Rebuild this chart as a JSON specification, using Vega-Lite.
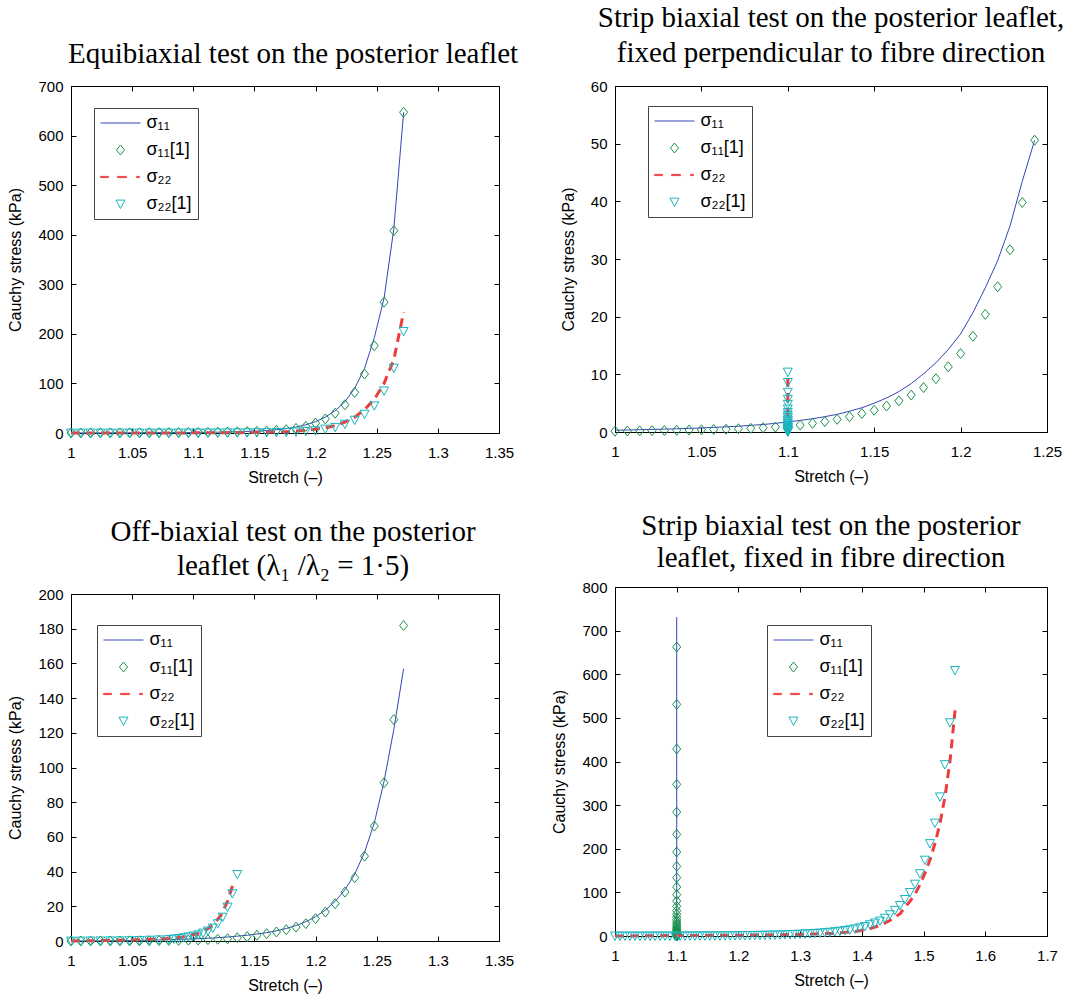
{
  "$schema": "https://vega.github.io/schema/vega-lite/v6.json",
  "background": "white",
  "padding": {"left": 7, "top": 3, "right": 5, "bottom": 5},
  "datasets": {
    "p1": [
      {"s":"σ₁₁","x":1,"y":0},{"s":"σ₁₁","x":1.008,"y":0.1},{"s":"σ₁₁","x":1.016,"y":0.2},{"s":"σ₁₁","x":1.024,"y":0.25},{"s":"σ₁₁","x":1.032,"y":0.3},{"s":"σ₁₁","x":1.04,"y":0.4},{"s":"σ₁₁","x":1.048,"y":0.45},{"s":"σ₁₁","x":1.056,"y":0.5},{"s":"σ₁₁","x":1.064,"y":0.6},{"s":"σ₁₁","x":1.072,"y":0.7},{"s":"σ₁₁","x":1.08,"y":0.8},{"s":"σ₁₁","x":1.088,"y":0.9},{"s":"σ₁₁","x":1.096,"y":1.0},{"s":"σ₁₁","x":1.104,"y":1.2},{"s":"σ₁₁","x":1.112,"y":1.4},{"s":"σ₁₁","x":1.12,"y":1.7},{"s":"σ₁₁","x":1.128,"y":2.0},{"s":"σ₁₁","x":1.136,"y":2.5},{"s":"σ₁₁","x":1.144,"y":3.1},{"s":"σ₁₁","x":1.152,"y":3.9},{"s":"σ₁₁","x":1.16,"y":5},{"s":"σ₁₁","x":1.168,"y":6.6},{"s":"σ₁₁","x":1.176,"y":8.8},{"s":"σ₁₁","x":1.184,"y":12},{"s":"σ₁₁","x":1.192,"y":16.5},{"s":"σ₁₁","x":1.2,"y":23},{"s":"σ₁₁","x":1.208,"y":32},{"s":"σ₁₁","x":1.216,"y":45},{"s":"σ₁₁","x":1.224,"y":63},{"s":"σ₁₁","x":1.232,"y":90},{"s":"σ₁₁","x":1.24,"y":130},{"s":"σ₁₁","x":1.248,"y":192},{"s":"σ₁₁","x":1.256,"y":272},{"s":"σ₁₁","x":1.264,"y":412},{"s":"σ₁₁","x":1.272,"y":647},
      {"s":"σ₁₁[1]","x":1,"y":0},{"s":"σ₁₁[1]","x":1.008,"y":0.05},{"s":"σ₁₁[1]","x":1.016,"y":0.1},{"s":"σ₁₁[1]","x":1.024,"y":0.15},{"s":"σ₁₁[1]","x":1.032,"y":0.2},{"s":"σ₁₁[1]","x":1.04,"y":0.25},{"s":"σ₁₁[1]","x":1.048,"y":0.3},{"s":"σ₁₁[1]","x":1.056,"y":0.4},{"s":"σ₁₁[1]","x":1.064,"y":0.5},{"s":"σ₁₁[1]","x":1.072,"y":0.6},{"s":"σ₁₁[1]","x":1.08,"y":0.7},{"s":"σ₁₁[1]","x":1.088,"y":0.8},{"s":"σ₁₁[1]","x":1.096,"y":1.0},{"s":"σ₁₁[1]","x":1.104,"y":1.2},{"s":"σ₁₁[1]","x":1.112,"y":1.4},{"s":"σ₁₁[1]","x":1.12,"y":1.7},{"s":"σ₁₁[1]","x":1.128,"y":2.0},{"s":"σ₁₁[1]","x":1.136,"y":2.4},{"s":"σ₁₁[1]","x":1.144,"y":2.9},{"s":"σ₁₁[1]","x":1.152,"y":3.4},{"s":"σ₁₁[1]","x":1.16,"y":4.1},{"s":"σ₁₁[1]","x":1.168,"y":5.2},{"s":"σ₁₁[1]","x":1.176,"y":6.8},{"s":"σ₁₁[1]","x":1.184,"y":9.3},{"s":"σ₁₁[1]","x":1.192,"y":13.5},{"s":"σ₁₁[1]","x":1.2,"y":20},{"s":"σ₁₁[1]","x":1.208,"y":28.5},{"s":"σ₁₁[1]","x":1.216,"y":40},{"s":"σ₁₁[1]","x":1.224,"y":57},{"s":"σ₁₁[1]","x":1.232,"y":82},{"s":"σ₁₁[1]","x":1.24,"y":119},{"s":"σ₁₁[1]","x":1.248,"y":176},{"s":"σ₁₁[1]","x":1.256,"y":264},{"s":"σ₁₁[1]","x":1.264,"y":408},{"s":"σ₁₁[1]","x":1.272,"y":647},
      {"s":"σ₂₂","x":1,"y":0},{"s":"σ₂₂","x":1.008,"y":0.02},{"s":"σ₂₂","x":1.016,"y":0.04},{"s":"σ₂₂","x":1.024,"y":0.06},{"s":"σ₂₂","x":1.032,"y":0.08},{"s":"σ₂₂","x":1.04,"y":0.1},{"s":"σ₂₂","x":1.048,"y":0.12},{"s":"σ₂₂","x":1.056,"y":0.14},{"s":"σ₂₂","x":1.064,"y":0.16},{"s":"σ₂₂","x":1.072,"y":0.18},{"s":"σ₂₂","x":1.08,"y":0.2},{"s":"σ₂₂","x":1.088,"y":0.23},{"s":"σ₂₂","x":1.096,"y":0.26},{"s":"σ₂₂","x":1.104,"y":0.3},{"s":"σ₂₂","x":1.112,"y":0.35},{"s":"σ₂₂","x":1.12,"y":0.42},{"s":"σ₂₂","x":1.128,"y":0.5},{"s":"σ₂₂","x":1.136,"y":0.6},{"s":"σ₂₂","x":1.144,"y":0.8},{"s":"σ₂₂","x":1.152,"y":1.0},{"s":"σ₂₂","x":1.16,"y":1.4},{"s":"σ₂₂","x":1.168,"y":1.9},{"s":"σ₂₂","x":1.176,"y":2.7},{"s":"σ₂₂","x":1.184,"y":3.8},{"s":"σ₂₂","x":1.192,"y":5.3},{"s":"σ₂₂","x":1.2,"y":7.5},{"s":"σ₂₂","x":1.208,"y":10.5},{"s":"σ₂₂","x":1.216,"y":15},{"s":"σ₂₂","x":1.224,"y":22},{"s":"σ₂₂","x":1.232,"y":32},{"s":"σ₂₂","x":1.24,"y":47},{"s":"σ₂₂","x":1.248,"y":68},{"s":"σ₂₂","x":1.256,"y":100},{"s":"σ₂₂","x":1.264,"y":148},{"s":"σ₂₂","x":1.272,"y":244},
      {"s":"σ₂₂[1]","x":1,"y":0},{"s":"σ₂₂[1]","x":1.008,"y":0.02},{"s":"σ₂₂[1]","x":1.016,"y":0.04},{"s":"σ₂₂[1]","x":1.024,"y":0.06},{"s":"σ₂₂[1]","x":1.032,"y":0.08},{"s":"σ₂₂[1]","x":1.04,"y":0.1},{"s":"σ₂₂[1]","x":1.048,"y":0.12},{"s":"σ₂₂[1]","x":1.056,"y":0.14},{"s":"σ₂₂[1]","x":1.064,"y":0.16},{"s":"σ₂₂[1]","x":1.072,"y":0.18},{"s":"σ₂₂[1]","x":1.08,"y":0.2},{"s":"σ₂₂[1]","x":1.088,"y":0.22},{"s":"σ₂₂[1]","x":1.096,"y":0.25},{"s":"σ₂₂[1]","x":1.104,"y":0.28},{"s":"σ₂₂[1]","x":1.112,"y":0.32},{"s":"σ₂₂[1]","x":1.12,"y":0.37},{"s":"σ₂₂[1]","x":1.128,"y":0.43},{"s":"σ₂₂[1]","x":1.136,"y":0.5},{"s":"σ₂₂[1]","x":1.144,"y":0.6},{"s":"σ₂₂[1]","x":1.152,"y":0.75},{"s":"σ₂₂[1]","x":1.16,"y":0.9},{"s":"σ₂₂[1]","x":1.168,"y":1.2},{"s":"σ₂₂[1]","x":1.176,"y":1.7},{"s":"σ₂₂[1]","x":1.184,"y":2.3},{"s":"σ₂₂[1]","x":1.192,"y":3.3},{"s":"σ₂₂[1]","x":1.2,"y":4.7},{"s":"σ₂₂[1]","x":1.208,"y":8},{"s":"σ₂₂[1]","x":1.216,"y":11.5},{"s":"σ₂₂[1]","x":1.224,"y":18},{"s":"σ₂₂[1]","x":1.232,"y":26},{"s":"σ₂₂[1]","x":1.24,"y":38},{"s":"σ₂₂[1]","x":1.248,"y":55},{"s":"σ₂₂[1]","x":1.256,"y":85},{"s":"σ₂₂[1]","x":1.264,"y":131},{"s":"σ₂₂[1]","x":1.272,"y":205}
    ],
    "p2": [
      {"s":"σ₁₁","x":1,"y":0.3},{"s":"σ₁₁","x":1.00714,"y":0.35},{"s":"σ₁₁","x":1.01429,"y":0.4},{"s":"σ₁₁","x":1.02143,"y":0.45},{"s":"σ₁₁","x":1.02857,"y":0.5},{"s":"σ₁₁","x":1.03571,"y":0.56},{"s":"σ₁₁","x":1.04286,"y":0.63},{"s":"σ₁₁","x":1.05,"y":0.7},{"s":"σ₁₁","x":1.05714,"y":0.8},{"s":"σ₁₁","x":1.06429,"y":0.9},{"s":"σ₁₁","x":1.07143,"y":1.0},{"s":"σ₁₁","x":1.07857,"y":1.15},{"s":"σ₁₁","x":1.08571,"y":1.3},{"s":"σ₁₁","x":1.09286,"y":1.5},{"s":"σ₁₁","x":1.1,"y":1.75},{"s":"σ₁₁","x":1.10714,"y":2.0},{"s":"σ₁₁","x":1.11429,"y":2.3},{"s":"σ₁₁","x":1.12143,"y":2.66},{"s":"σ₁₁","x":1.12857,"y":3.06},{"s":"σ₁₁","x":1.13571,"y":3.6},{"s":"σ₁₁","x":1.14286,"y":4.2},{"s":"σ₁₁","x":1.15,"y":5.0},{"s":"σ₁₁","x":1.15714,"y":5.9},{"s":"σ₁₁","x":1.16429,"y":7.0},{"s":"σ₁₁","x":1.17143,"y":8.4},{"s":"σ₁₁","x":1.17857,"y":10.1},{"s":"σ₁₁","x":1.18571,"y":12.0},{"s":"σ₁₁","x":1.19286,"y":14.3},{"s":"σ₁₁","x":1.2,"y":17.0},{"s":"σ₁₁","x":1.20714,"y":20.7},{"s":"σ₁₁","x":1.21429,"y":25},{"s":"σ₁₁","x":1.22143,"y":29.7},{"s":"σ₁₁","x":1.22857,"y":35.7},{"s":"σ₁₁","x":1.23571,"y":43.5},{"s":"σ₁₁","x":1.24286,"y":50.6},
      {"s":"σ₁₁[1]","x":1,"y":0.15},{"s":"σ₁₁[1]","x":1.00714,"y":0.17},{"s":"σ₁₁[1]","x":1.01429,"y":0.2},{"s":"σ₁₁[1]","x":1.02143,"y":0.23},{"s":"σ₁₁[1]","x":1.02857,"y":0.26},{"s":"σ₁₁[1]","x":1.03571,"y":0.3},{"s":"σ₁₁[1]","x":1.04286,"y":0.34},{"s":"σ₁₁[1]","x":1.05,"y":0.38},{"s":"σ₁₁[1]","x":1.05714,"y":0.43},{"s":"σ₁₁[1]","x":1.06429,"y":0.49},{"s":"σ₁₁[1]","x":1.07143,"y":0.56},{"s":"σ₁₁[1]","x":1.07857,"y":0.64},{"s":"σ₁₁[1]","x":1.08571,"y":0.74},{"s":"σ₁₁[1]","x":1.09286,"y":0.86},{"s":"σ₁₁[1]","x":1.1,"y":1.0},{"s":"σ₁₁[1]","x":1.10714,"y":1.2},{"s":"σ₁₁[1]","x":1.11429,"y":1.5},{"s":"σ₁₁[1]","x":1.12143,"y":1.8},{"s":"σ₁₁[1]","x":1.12857,"y":2.2},{"s":"σ₁₁[1]","x":1.13571,"y":2.66},{"s":"σ₁₁[1]","x":1.14286,"y":3.2},{"s":"σ₁₁[1]","x":1.15,"y":3.76},{"s":"σ₁₁[1]","x":1.15714,"y":4.5},{"s":"σ₁₁[1]","x":1.16429,"y":5.4},{"s":"σ₁₁[1]","x":1.17143,"y":6.4},{"s":"σ₁₁[1]","x":1.17857,"y":7.7},{"s":"σ₁₁[1]","x":1.18571,"y":9.25},{"s":"σ₁₁[1]","x":1.19286,"y":11.3},{"s":"σ₁₁[1]","x":1.2,"y":13.6},{"s":"σ₁₁[1]","x":1.20714,"y":16.6},{"s":"σ₁₁[1]","x":1.21429,"y":20.4},{"s":"σ₁₁[1]","x":1.22143,"y":25.2},{"s":"σ₁₁[1]","x":1.22857,"y":31.6},{"s":"σ₁₁[1]","x":1.23571,"y":39.8},{"s":"σ₁₁[1]","x":1.24286,"y":50.6},
      {"s":"σ₂₂","x":1.1,"y":0},{"s":"σ₂₂","x":1.1,"y":2},{"s":"σ₂₂","x":1.1,"y":4},{"s":"σ₂₂","x":1.1,"y":6},{"s":"σ₂₂","x":1.1,"y":8},{"s":"σ₂₂","x":1.1,"y":10},
      {"s":"σ₂₂[1]","x":1.1,"y":0},{"s":"σ₂₂[1]","x":1.1,"y":0.1},{"s":"σ₂₂[1]","x":1.1,"y":0.2},{"s":"σ₂₂[1]","x":1.1,"y":0.3},{"s":"σ₂₂[1]","x":1.1,"y":0.45},{"s":"σ₂₂[1]","x":1.1,"y":0.6},{"s":"σ₂₂[1]","x":1.1,"y":0.8},{"s":"σ₂₂[1]","x":1.1,"y":1.0},{"s":"σ₂₂[1]","x":1.1,"y":1.25},{"s":"σ₂₂[1]","x":1.1,"y":1.5},{"s":"σ₂₂[1]","x":1.1,"y":1.8},{"s":"σ₂₂[1]","x":1.1,"y":2.1},{"s":"σ₂₂[1]","x":1.1,"y":2.5},{"s":"σ₂₂[1]","x":1.1,"y":2.9},{"s":"σ₂₂[1]","x":1.1,"y":3.4},{"s":"σ₂₂[1]","x":1.1,"y":4.0},{"s":"σ₂₂[1]","x":1.1,"y":4.8},{"s":"σ₂₂[1]","x":1.1,"y":5.7},{"s":"σ₂₂[1]","x":1.1,"y":6.9},{"s":"σ₂₂[1]","x":1.1,"y":8.6},{"s":"σ₂₂[1]","x":1.1,"y":10.4}
    ],
    "p3": [
      {"s":"σ₁₁","x":1,"y":0},{"s":"σ₁₁","x":1.008,"y":0.02},{"s":"σ₁₁","x":1.016,"y":0.05},{"s":"σ₁₁","x":1.024,"y":0.1},{"s":"σ₁₁","x":1.032,"y":0.15},{"s":"σ₁₁","x":1.04,"y":0.22},{"s":"σ₁₁","x":1.048,"y":0.3},{"s":"σ₁₁","x":1.056,"y":0.4},{"s":"σ₁₁","x":1.064,"y":0.5},{"s":"σ₁₁","x":1.072,"y":0.6},{"s":"σ₁₁","x":1.08,"y":0.75},{"s":"σ₁₁","x":1.088,"y":0.9},{"s":"σ₁₁","x":1.096,"y":1.1},{"s":"σ₁₁","x":1.104,"y":1.35},{"s":"σ₁₁","x":1.112,"y":1.6},{"s":"σ₁₁","x":1.12,"y":1.9},{"s":"σ₁₁","x":1.128,"y":2.3},{"s":"σ₁₁","x":1.136,"y":2.8},{"s":"σ₁₁","x":1.144,"y":3.3},{"s":"σ₁₁","x":1.152,"y":4.0},{"s":"σ₁₁","x":1.16,"y":4.8},{"s":"σ₁₁","x":1.168,"y":5.9},{"s":"σ₁₁","x":1.176,"y":7.2},{"s":"σ₁₁","x":1.184,"y":8.9},{"s":"σ₁₁","x":1.192,"y":11.1},{"s":"σ₁₁","x":1.2,"y":14},{"s":"σ₁₁","x":1.208,"y":17.8},{"s":"σ₁₁","x":1.216,"y":22.8},{"s":"σ₁₁","x":1.224,"y":29.5},{"s":"σ₁₁","x":1.232,"y":38.5},{"s":"σ₁₁","x":1.24,"y":51},{"s":"σ₁₁","x":1.248,"y":68},{"s":"σ₁₁","x":1.256,"y":92},{"s":"σ₁₁","x":1.264,"y":122},{"s":"σ₁₁","x":1.272,"y":157},
      {"s":"σ₁₁[1]","x":1,"y":0},{"s":"σ₁₁[1]","x":1.008,"y":0.01},{"s":"σ₁₁[1]","x":1.016,"y":0.02},{"s":"σ₁₁[1]","x":1.024,"y":0.04},{"s":"σ₁₁[1]","x":1.032,"y":0.06},{"s":"σ₁₁[1]","x":1.04,"y":0.08},{"s":"σ₁₁[1]","x":1.048,"y":0.1},{"s":"σ₁₁[1]","x":1.056,"y":0.15},{"s":"σ₁₁[1]","x":1.064,"y":0.2},{"s":"σ₁₁[1]","x":1.072,"y":0.25},{"s":"σ₁₁[1]","x":1.08,"y":0.3},{"s":"σ₁₁[1]","x":1.088,"y":0.4},{"s":"σ₁₁[1]","x":1.096,"y":0.5},{"s":"σ₁₁[1]","x":1.104,"y":0.6},{"s":"σ₁₁[1]","x":1.112,"y":0.8},{"s":"σ₁₁[1]","x":1.12,"y":1.0},{"s":"σ₁₁[1]","x":1.128,"y":1.3},{"s":"σ₁₁[1]","x":1.136,"y":1.9},{"s":"σ₁₁[1]","x":1.144,"y":2.5},{"s":"σ₁₁[1]","x":1.152,"y":3.3},{"s":"σ₁₁[1]","x":1.16,"y":4.2},{"s":"σ₁₁[1]","x":1.168,"y":5.2},{"s":"σ₁₁[1]","x":1.176,"y":6.5},{"s":"σ₁₁[1]","x":1.184,"y":8},{"s":"σ₁₁[1]","x":1.192,"y":10},{"s":"σ₁₁[1]","x":1.2,"y":12.9},{"s":"σ₁₁[1]","x":1.208,"y":16.7},{"s":"σ₁₁[1]","x":1.216,"y":21.5},{"s":"σ₁₁[1]","x":1.224,"y":28.2},{"s":"σ₁₁[1]","x":1.232,"y":36.5},{"s":"σ₁₁[1]","x":1.24,"y":48.9},{"s":"σ₁₁[1]","x":1.248,"y":66.2},{"s":"σ₁₁[1]","x":1.256,"y":91.2},{"s":"σ₁₁[1]","x":1.264,"y":127.6},{"s":"σ₁₁[1]","x":1.272,"y":181.8},
      {"s":"σ₂₂","x":1,"y":0},{"s":"σ₂₂","x":1.02,"y":0.2},{"s":"σ₂₂","x":1.04,"y":0.4},{"s":"σ₂₂","x":1.06,"y":0.8},{"s":"σ₂₂","x":1.08,"y":1.5},{"s":"σ₂₂","x":1.09,"y":2.1},{"s":"σ₂₂","x":1.098,"y":3.3},{"s":"σ₂₂","x":1.106,"y":4.8},{"s":"σ₂₂","x":1.112,"y":7.1},{"s":"σ₂₂","x":1.117,"y":10},{"s":"σ₂₂","x":1.1226,"y":14.8},{"s":"σ₂₂","x":1.128,"y":22.8},{"s":"σ₂₂","x":1.1335,"y":35},
      {"s":"σ₂₂[1]","x":1,"y":0},{"s":"σ₂₂[1]","x":1.008,"y":0.02},{"s":"σ₂₂[1]","x":1.016,"y":0.05},{"s":"σ₂₂[1]","x":1.024,"y":0.08},{"s":"σ₂₂[1]","x":1.032,"y":0.12},{"s":"σ₂₂[1]","x":1.04,"y":0.17},{"s":"σ₂₂[1]","x":1.048,"y":0.25},{"s":"σ₂₂[1]","x":1.056,"y":0.35},{"s":"σ₂₂[1]","x":1.064,"y":0.5},{"s":"σ₂₂[1]","x":1.072,"y":0.7},{"s":"σ₂₂[1]","x":1.08,"y":0.9},{"s":"σ₂₂[1]","x":1.084,"y":1.2},{"s":"σ₂₂[1]","x":1.088,"y":1.5},{"s":"σ₂₂[1]","x":1.092,"y":1.9},{"s":"σ₂₂[1]","x":1.096,"y":2.4},{"s":"σ₂₂[1]","x":1.1,"y":2.9},{"s":"σ₂₂[1]","x":1.104,"y":3.6},{"s":"σ₂₂[1]","x":1.108,"y":4.6},{"s":"σ₂₂[1]","x":1.112,"y":5.8},{"s":"σ₂₂[1]","x":1.116,"y":7.5},{"s":"σ₂₂[1]","x":1.12,"y":10},{"s":"σ₂₂[1]","x":1.124,"y":13.8},{"s":"σ₂₂[1]","x":1.128,"y":19.6},{"s":"σ₂₂[1]","x":1.132,"y":27.3},{"s":"σ₂₂[1]","x":1.136,"y":38.4}
    ],
    "p4": [
      {"s":"σ₁₁","x":1.1,"y":0},{"s":"σ₁₁","x":1.1,"y":731},
      {"s":"σ₁₁[1]","x":1.1,"y":0},{"s":"σ₁₁[1]","x":1.1,"y":0.1},{"s":"σ₁₁[1]","x":1.1,"y":0.4},{"s":"σ₁₁[1]","x":1.1,"y":0.8},{"s":"σ₁₁[1]","x":1.1,"y":1.3},{"s":"σ₁₁[1]","x":1.1,"y":1.9},{"s":"σ₁₁[1]","x":1.1,"y":2.6},{"s":"σ₁₁[1]","x":1.1,"y":3.4},{"s":"σ₁₁[1]","x":1.1,"y":4.4},{"s":"σ₁₁[1]","x":1.1,"y":5.5},{"s":"σ₁₁[1]","x":1.1,"y":6.8},{"s":"σ₁₁[1]","x":1.1,"y":8.3},{"s":"σ₁₁[1]","x":1.1,"y":10},{"s":"σ₁₁[1]","x":1.1,"y":12},{"s":"σ₁₁[1]","x":1.1,"y":14.5},{"s":"σ₁₁[1]","x":1.1,"y":17},{"s":"σ₁₁[1]","x":1.1,"y":20},{"s":"σ₁₁[1]","x":1.1,"y":23.5},{"s":"σ₁₁[1]","x":1.1,"y":27.5},{"s":"σ₁₁[1]","x":1.1,"y":32},{"s":"σ₁₁[1]","x":1.1,"y":37},{"s":"σ₁₁[1]","x":1.1,"y":43},{"s":"σ₁₁[1]","x":1.1,"y":50},{"s":"σ₁₁[1]","x":1.1,"y":58},{"s":"σ₁₁[1]","x":1.1,"y":68},{"s":"σ₁₁[1]","x":1.1,"y":80},{"s":"σ₁₁[1]","x":1.1,"y":94.7},{"s":"σ₁₁[1]","x":1.1,"y":112.3},{"s":"σ₁₁[1]","x":1.1,"y":133.7},{"s":"σ₁₁[1]","x":1.1,"y":159.7},{"s":"σ₁₁[1]","x":1.1,"y":192.6},{"s":"σ₁₁[1]","x":1.1,"y":233},{"s":"σ₁₁[1]","x":1.1,"y":284},{"s":"σ₁₁[1]","x":1.1,"y":347.7},{"s":"σ₁₁[1]","x":1.1,"y":428.7},{"s":"σ₁₁[1]","x":1.1,"y":531},{"s":"σ₁₁[1]","x":1.1,"y":662.5},
      {"s":"σ₂₂","x":1,"y":0},{"s":"σ₂₂","x":1.1,"y":1.0},{"s":"σ₂₂","x":1.2,"y":1.8},{"s":"σ₂₂","x":1.3,"y":3.5},{"s":"σ₂₂","x":1.35,"y":6},{"s":"σ₂₂","x":1.392,"y":10.7},{"s":"σ₂₂","x":1.4135,"y":17},{"s":"σ₂₂","x":1.43,"y":24.5},{"s":"σ₂₂","x":1.446,"y":36},{"s":"σ₂₂","x":1.454,"y":43.5},{"s":"σ₂₂","x":1.462,"y":51},{"s":"σ₂₂","x":1.47,"y":66.5},{"s":"σ₂₂","x":1.478,"y":79.5},{"s":"σ₂₂","x":1.4865,"y":97},{"s":"σ₂₂","x":1.495,"y":120},{"s":"σ₂₂","x":1.503,"y":147},{"s":"σ₂₂","x":1.511,"y":177},{"s":"σ₂₂","x":1.519,"y":215},{"s":"σ₂₂","x":1.527,"y":261},{"s":"σ₂₂","x":1.535,"y":322},{"s":"σ₂₂","x":1.543,"y":403},{"s":"σ₂₂","x":1.551,"y":517},
      {"s":"σ₂₂[1]","x":1,"y":0},{"s":"σ₂₂[1]","x":1.0081,"y":0.01},{"s":"σ₂₂[1]","x":1.0162,"y":0.02},{"s":"σ₂₂[1]","x":1.0243,"y":0.03},{"s":"σ₂₂[1]","x":1.0324,"y":0.04},{"s":"σ₂₂[1]","x":1.0405,"y":0.06},{"s":"σ₂₂[1]","x":1.0486,"y":0.08},{"s":"σ₂₂[1]","x":1.0567,"y":0.1},{"s":"σ₂₂[1]","x":1.0648,"y":0.12},{"s":"σ₂₂[1]","x":1.0729,"y":0.14},{"s":"σ₂₂[1]","x":1.081,"y":0.16},{"s":"σ₂₂[1]","x":1.0891,"y":0.18},{"s":"σ₂₂[1]","x":1.0972,"y":0.2},{"s":"σ₂₂[1]","x":1.1053,"y":0.25},{"s":"σ₂₂[1]","x":1.1134,"y":0.3},{"s":"σ₂₂[1]","x":1.1215,"y":0.35},{"s":"σ₂₂[1]","x":1.1296,"y":0.4},{"s":"σ₂₂[1]","x":1.1377,"y":0.45},{"s":"σ₂₂[1]","x":1.1458,"y":0.5},{"s":"σ₂₂[1]","x":1.1539,"y":0.55},{"s":"σ₂₂[1]","x":1.162,"y":0.6},{"s":"σ₂₂[1]","x":1.1701,"y":0.7},{"s":"σ₂₂[1]","x":1.1782,"y":0.8},{"s":"σ₂₂[1]","x":1.1863,"y":0.9},{"s":"σ₂₂[1]","x":1.1944,"y":1.0},{"s":"σ₂₂[1]","x":1.2025,"y":1.1},{"s":"σ₂₂[1]","x":1.2106,"y":1.25},{"s":"σ₂₂[1]","x":1.2187,"y":1.4},{"s":"σ₂₂[1]","x":1.2268,"y":1.6},{"s":"σ₂₂[1]","x":1.2349,"y":1.8},{"s":"σ₂₂[1]","x":1.243,"y":2.0},{"s":"σ₂₂[1]","x":1.2511,"y":2.2},{"s":"σ₂₂[1]","x":1.2592,"y":2.5},{"s":"σ₂₂[1]","x":1.2673,"y":2.8},{"s":"σ₂₂[1]","x":1.2754,"y":3.1},{"s":"σ₂₂[1]","x":1.2835,"y":3.5},{"s":"σ₂₂[1]","x":1.2916,"y":3.9},{"s":"σ₂₂[1]","x":1.2997,"y":4.4},{"s":"σ₂₂[1]","x":1.3078,"y":4.9},{"s":"σ₂₂[1]","x":1.3159,"y":5.5},{"s":"σ₂₂[1]","x":1.324,"y":6.2},{"s":"σ₂₂[1]","x":1.3321,"y":7},{"s":"σ₂₂[1]","x":1.3402,"y":7.9},{"s":"σ₂₂[1]","x":1.3483,"y":8.9},{"s":"σ₂₂[1]","x":1.3564,"y":10},{"s":"σ₂₂[1]","x":1.3645,"y":11.3},{"s":"σ₂₂[1]","x":1.3726,"y":12.8},{"s":"σ₂₂[1]","x":1.3807,"y":14.5},{"s":"σ₂₂[1]","x":1.3888,"y":16.5},{"s":"σ₂₂[1]","x":1.3969,"y":19},{"s":"σ₂₂[1]","x":1.405,"y":22},{"s":"σ₂₂[1]","x":1.4131,"y":26},{"s":"σ₂₂[1]","x":1.4212,"y":30},{"s":"σ₂₂[1]","x":1.4293,"y":34.5},{"s":"σ₂₂[1]","x":1.4374,"y":41},{"s":"σ₂₂[1]","x":1.4455,"y":49},{"s":"σ₂₂[1]","x":1.4536,"y":59},{"s":"σ₂₂[1]","x":1.4617,"y":70},{"s":"σ₂₂[1]","x":1.4698,"y":84},{"s":"σ₂₂[1]","x":1.4779,"y":100},{"s":"σ₂₂[1]","x":1.486,"y":119},{"s":"σ₂₂[1]","x":1.4941,"y":143},{"s":"σ₂₂[1]","x":1.5022,"y":174},{"s":"σ₂₂[1]","x":1.5103,"y":212},{"s":"σ₂₂[1]","x":1.5184,"y":259},{"s":"σ₂₂[1]","x":1.5265,"y":319},{"s":"σ₂₂[1]","x":1.5346,"y":393},{"s":"σ₂₂[1]","x":1.5427,"y":489},{"s":"σ₂₂[1]","x":1.5508,"y":609}
    ]
  },
  "config": {
    "view": {"stroke": "#000", "strokeWidth": 1},
    "axis": {"labelFont": "Liberation Sans", "labelFontSize": 15, "labelColor": "#000", "titleFont": "Liberation Sans", "titleFontSize": 16, "titleFontWeight": "normal", "titleColor": "#000", "domainColor": "#000", "domainWidth": 1, "tickColor": "#000", "tickSize": -5, "tickWidth": 1, "grid": false, "labelFlush": false, "labelOverlap": false},
    "axisX": {"labelPadding": 17, "titlePadding": 9},
    "axisY": {"labelPadding": 13, "titlePadding": 14},
    "title": {"font": "Liberation Serif", "fontSize": 29, "fontWeight": "normal", "color": "#000", "anchor": "middle", "frame": "group"},
    "legend": {"padding": 6, "rowPadding": 9, "symbolOffset": 11.5, "labelOffset": 17, "labelFont": "Liberation Sans", "labelFontSize": 18, "labelColor": "#000", "strokeColor": "#444", "fillColor": "#fff", "symbolStrokeWidth": 1, "symbolSize": 144, "labelLimit": 200},
    "point": {"opacity": 1},
    "line": {"opacity": 1}
  },
  "spacing": 32,
  "resolve": {"scale": {"color": "independent", "shape": "independent"}, "legend": {"color": "independent", "shape": "independent"}},
  "hconcat": [
    {
      "bounds": "flush",
      "spacing": 161,
      "resolve": {"scale": {"color": "independent", "shape": "independent"}, "legend": {"color": "independent", "shape": "independent"}},
      "vconcat": [
        {
          "width": 428, "height": 347,
          "title": {"text": [" ", "Equibiaxial test on the posterior leaflet"], "lineHeight": 36, "offset": 10, "dx": 8},
          "data": {"name": "p1"},
          "resolve": {"axis": {"x": "independent", "y": "independent"}},
          "layer": [
            {"transform": [{"filter": "datum.s === 'σ₁₁'"}], "mark": {"type": "line", "strokeWidth": 1},
             "encoding": {
               "x": {"field": "x", "type": "quantitative", "scale": {"domain": [1, 1.35], "nice": false, "zero": false}, "axis": {"values": [1, 1.05, 1.1, 1.15, 1.2, 1.25, 1.3, 1.35], "format": "~g", "title": "Stretch (–)"}},
               "y": {"field": "y", "type": "quantitative", "scale": {"domain": [0, 700], "nice": false}, "axis": {"values": [0, 100, 200, 300, 400, 500, 600, 700], "title": "Cauchy stress (kPa)"}},
               "color": {"field": "s", "type": "nominal", "scale": {"domain": ["σ₁₁", "σ₁₁[1]", "σ₂₂", "σ₂₂[1]"], "range": ["#3546b8", "#179249", "#ee3b3b", "#1ab4c0"]}, "legend": {"orient": "none", "legendX": 23, "legendY": 22, "title": null}}
             }},
            {"transform": [{"filter": "datum.s === 'σ₁₁[1]'"}], "mark": {"type": "point", "filled": false, "size": 144, "strokeWidth": 1},
             "encoding": {
               "x": {"field": "x", "type": "quantitative", "scale": {"domain": [1, 1.35], "nice": false, "zero": false}, "axis": null},
               "y": {"field": "y", "type": "quantitative", "scale": {"domain": [0, 700], "nice": false}, "axis": null},
               "color": {"field": "s", "type": "nominal", "scale": {"domain": ["σ₁₁", "σ₁₁[1]", "σ₂₂", "σ₂₂[1]"], "range": ["#3546b8", "#179249", "#ee3b3b", "#1ab4c0"]}},
               "shape": {"field": "s", "type": "nominal", "scale": {"domain": ["σ₁₁", "σ₁₁[1]", "σ₂₂", "σ₂₂[1]"], "range": ["M-3.33,0H3.33", "M0,-0.83L0.67,0L0,0.83L-0.67,0Z", "M-3.33,-0.1H-2V0.1H-3.33Z M-0.5,-0.1H1V0.1H-0.5Z M2.67,-0.1H3.17V0.1H2.67Z", "M-0.75,-0.65L0.75,-0.65L0,0.75Z"]}}
             }},
            {"transform": [{"filter": "datum.s === 'σ₂₂'"}], "mark": {"type": "line", "strokeWidth": 3, "strokeDash": [9, 6]},
             "encoding": {
               "x": {"field": "x", "type": "quantitative", "scale": {"domain": [1, 1.35], "nice": false, "zero": false}, "axis": {"orient": "top", "values": [1, 1.05, 1.1, 1.15, 1.2, 1.25, 1.3, 1.35], "labels": false, "title": null, "domain": false}},
               "y": {"field": "y", "type": "quantitative", "scale": {"domain": [0, 700], "nice": false}, "axis": {"orient": "right", "values": [0, 100, 200, 300, 400, 500, 600, 700], "labels": false, "title": null, "domain": false}},
               "color": {"field": "s", "type": "nominal", "scale": {"domain": ["σ₁₁", "σ₁₁[1]", "σ₂₂", "σ₂₂[1]"], "range": ["#3546b8", "#179249", "#ee3b3b", "#1ab4c0"]}}
             }},
            {"transform": [{"filter": "datum.s === 'σ₂₂[1]'"}], "mark": {"type": "point", "filled": false, "size": 144, "strokeWidth": 1},
             "encoding": {
               "x": {"field": "x", "type": "quantitative", "scale": {"domain": [1, 1.35], "nice": false, "zero": false}, "axis": null},
               "y": {"field": "y", "type": "quantitative", "scale": {"domain": [0, 700], "nice": false}, "axis": null},
               "color": {"field": "s", "type": "nominal", "scale": {"domain": ["σ₁₁", "σ₁₁[1]", "σ₂₂", "σ₂₂[1]"], "range": ["#3546b8", "#179249", "#ee3b3b", "#1ab4c0"]}},
               "shape": {"field": "s", "type": "nominal", "scale": {"domain": ["σ₁₁", "σ₁₁[1]", "σ₂₂", "σ₂₂[1]"], "range": ["M-3.33,0H3.33", "M0,-0.83L0.67,0L0,0.83L-0.67,0Z", "M-3.33,-0.1H-2V0.1H-3.33Z M-0.5,-0.1H1V0.1H-0.5Z M2.67,-0.1H3.17V0.1H2.67Z", "M-0.75,-0.65L0.75,-0.65L0,0.75Z"]}}
             }}
          ]
        },
        {
          "width": 428, "height": 347,
          "title": {"text": ["Off-biaxial test on the posterior", "leaflet (λ₁ /λ₂ = 1·5)"], "lineHeight": 34, "offset": 6, "dx": 8},
          "data": {"name": "p3"},
          "resolve": {"axis": {"x": "independent", "y": "independent"}},
          "layer": [
            {"transform": [{"filter": "datum.s === 'σ₁₁'"}], "mark": {"type": "line", "strokeWidth": 1},
             "encoding": {
               "x": {"field": "x", "type": "quantitative", "scale": {"domain": [1, 1.35], "nice": false, "zero": false}, "axis": {"values": [1, 1.05, 1.1, 1.15, 1.2, 1.25, 1.3, 1.35], "format": "~g", "title": "Stretch (–)"}},
               "y": {"field": "y", "type": "quantitative", "scale": {"domain": [0, 200], "nice": false}, "axis": {"values": [0, 20, 40, 60, 80, 100, 120, 140, 160, 180, 200], "title": "Cauchy stress (kPa)"}},
               "color": {"field": "s", "type": "nominal", "scale": {"domain": ["σ₁₁", "σ₁₁[1]", "σ₂₂", "σ₂₂[1]"], "range": ["#3546b8", "#179249", "#ee3b3b", "#1ab4c0"]}, "legend": {"orient": "none", "legendX": 26, "legendY": 31, "title": null}}
             }},
            {"transform": [{"filter": "datum.s === 'σ₁₁[1]'"}], "mark": {"type": "point", "filled": false, "size": 144, "strokeWidth": 1},
             "encoding": {
               "x": {"field": "x", "type": "quantitative", "scale": {"domain": [1, 1.35], "nice": false, "zero": false}, "axis": null},
               "y": {"field": "y", "type": "quantitative", "scale": {"domain": [0, 200], "nice": false}, "axis": null},
               "color": {"field": "s", "type": "nominal", "scale": {"domain": ["σ₁₁", "σ₁₁[1]", "σ₂₂", "σ₂₂[1]"], "range": ["#3546b8", "#179249", "#ee3b3b", "#1ab4c0"]}},
               "shape": {"field": "s", "type": "nominal", "scale": {"domain": ["σ₁₁", "σ₁₁[1]", "σ₂₂", "σ₂₂[1]"], "range": ["M-3.33,0H3.33", "M0,-0.83L0.67,0L0,0.83L-0.67,0Z", "M-3.33,-0.1H-2V0.1H-3.33Z M-0.5,-0.1H1V0.1H-0.5Z M2.67,-0.1H3.17V0.1H2.67Z", "M-0.75,-0.65L0.75,-0.65L0,0.75Z"]}}
             }},
            {"transform": [{"filter": "datum.s === 'σ₂₂'"}], "mark": {"type": "line", "strokeWidth": 3, "strokeDash": [9, 6]},
             "encoding": {
               "x": {"field": "x", "type": "quantitative", "scale": {"domain": [1, 1.35], "nice": false, "zero": false}, "axis": {"orient": "top", "values": [1, 1.05, 1.1, 1.15, 1.2, 1.25, 1.3, 1.35], "labels": false, "title": null, "domain": false}},
               "y": {"field": "y", "type": "quantitative", "scale": {"domain": [0, 200], "nice": false}, "axis": {"orient": "right", "values": [0, 20, 40, 60, 80, 100, 120, 140, 160, 180, 200], "labels": false, "title": null, "domain": false}},
               "color": {"field": "s", "type": "nominal", "scale": {"domain": ["σ₁₁", "σ₁₁[1]", "σ₂₂", "σ₂₂[1]"], "range": ["#3546b8", "#179249", "#ee3b3b", "#1ab4c0"]}}
             }},
            {"transform": [{"filter": "datum.s === 'σ₂₂[1]'"}], "mark": {"type": "point", "filled": false, "size": 144, "strokeWidth": 1},
             "encoding": {
               "x": {"field": "x", "type": "quantitative", "scale": {"domain": [1, 1.35], "nice": false, "zero": false}, "axis": null},
               "y": {"field": "y", "type": "quantitative", "scale": {"domain": [0, 200], "nice": false}, "axis": null},
               "color": {"field": "s", "type": "nominal", "scale": {"domain": ["σ₁₁", "σ₁₁[1]", "σ₂₂", "σ₂₂[1]"], "range": ["#3546b8", "#179249", "#ee3b3b", "#1ab4c0"]}},
               "shape": {"field": "s", "type": "nominal", "scale": {"domain": ["σ₁₁", "σ₁₁[1]", "σ₂₂", "σ₂₂[1]"], "range": ["M-3.33,0H3.33", "M0,-0.83L0.67,0L0,0.83L-0.67,0Z", "M-3.33,-0.1H-2V0.1H-3.33Z M-0.5,-0.1H1V0.1H-0.5Z M2.67,-0.1H3.17V0.1H2.67Z", "M-0.75,-0.65L0.75,-0.65L0,0.75Z"]}}
             }}
          ]
        }
      ]
    },
    {
      "bounds": "flush",
      "spacing": 155,
      "resolve": {"scale": {"color": "independent", "shape": "independent"}, "legend": {"color": "independent", "shape": "independent"}},
      "vconcat": [
        {
          "width": 432, "height": 346,
          "title": {"text": ["Strip biaxial test on the posterior leaflet,", "fixed perpendicular to fibre direction"], "lineHeight": 35, "offset": 11},
          "data": {"name": "p2"},
          "resolve": {"axis": {"x": "independent", "y": "independent"}},
          "layer": [
            {"transform": [{"filter": "datum.s === 'σ₁₁'"}], "mark": {"type": "line", "strokeWidth": 1},
             "encoding": {
               "x": {"field": "x", "type": "quantitative", "scale": {"domain": [1, 1.25], "nice": false, "zero": false}, "axis": {"values": [1, 1.05, 1.1, 1.15, 1.2, 1.25], "format": "~g", "title": "Stretch (–)"}},
               "y": {"field": "y", "type": "quantitative", "scale": {"domain": [0, 60], "nice": false}, "axis": {"values": [0, 10, 20, 30, 40, 50, 60], "title": "Cauchy stress (kPa)"}},
               "color": {"field": "s", "type": "nominal", "scale": {"domain": ["σ₁₁", "σ₁₁[1]", "σ₂₂", "σ₂₂[1]"], "range": ["#3546b8", "#179249", "#ee3b3b", "#1ab4c0"]}, "legend": {"orient": "none", "legendX": 33, "legendY": 20, "title": null}}
             }},
            {"transform": [{"filter": "datum.s === 'σ₁₁[1]'"}], "mark": {"type": "point", "filled": false, "size": 144, "strokeWidth": 1},
             "encoding": {
               "x": {"field": "x", "type": "quantitative", "scale": {"domain": [1, 1.25], "nice": false, "zero": false}, "axis": null},
               "y": {"field": "y", "type": "quantitative", "scale": {"domain": [0, 60], "nice": false}, "axis": null},
               "color": {"field": "s", "type": "nominal", "scale": {"domain": ["σ₁₁", "σ₁₁[1]", "σ₂₂", "σ₂₂[1]"], "range": ["#3546b8", "#179249", "#ee3b3b", "#1ab4c0"]}},
               "shape": {"field": "s", "type": "nominal", "scale": {"domain": ["σ₁₁", "σ₁₁[1]", "σ₂₂", "σ₂₂[1]"], "range": ["M-3.33,0H3.33", "M0,-0.83L0.67,0L0,0.83L-0.67,0Z", "M-3.33,-0.1H-2V0.1H-3.33Z M-0.5,-0.1H1V0.1H-0.5Z M2.67,-0.1H3.17V0.1H2.67Z", "M-0.75,-0.65L0.75,-0.65L0,0.75Z"]}}
             }},
            {"transform": [{"filter": "datum.s === 'σ₂₂'"}], "mark": {"type": "line", "strokeWidth": 3, "strokeDash": [9, 6]},
             "encoding": {
               "x": {"field": "x", "type": "quantitative", "scale": {"domain": [1, 1.25], "nice": false, "zero": false}, "axis": {"orient": "top", "values": [1, 1.05, 1.1, 1.15, 1.2, 1.25], "labels": false, "title": null, "domain": false}},
               "y": {"field": "y", "type": "quantitative", "scale": {"domain": [0, 60], "nice": false}, "axis": {"orient": "right", "values": [0, 10, 20, 30, 40, 50, 60], "labels": false, "title": null, "domain": false}},
               "color": {"field": "s", "type": "nominal", "scale": {"domain": ["σ₁₁", "σ₁₁[1]", "σ₂₂", "σ₂₂[1]"], "range": ["#3546b8", "#179249", "#ee3b3b", "#1ab4c0"]}}
             }},
            {"transform": [{"filter": "datum.s === 'σ₂₂[1]'"}], "mark": {"type": "point", "filled": false, "size": 144, "strokeWidth": 1},
             "encoding": {
               "x": {"field": "x", "type": "quantitative", "scale": {"domain": [1, 1.25], "nice": false, "zero": false}, "axis": null},
               "y": {"field": "y", "type": "quantitative", "scale": {"domain": [0, 60], "nice": false}, "axis": null},
               "color": {"field": "s", "type": "nominal", "scale": {"domain": ["σ₁₁", "σ₁₁[1]", "σ₂₂", "σ₂₂[1]"], "range": ["#3546b8", "#179249", "#ee3b3b", "#1ab4c0"]}},
               "shape": {"field": "s", "type": "nominal", "scale": {"domain": ["σ₁₁", "σ₁₁[1]", "σ₂₂", "σ₂₂[1]"], "range": ["M-3.33,0H3.33", "M0,-0.83L0.67,0L0,0.83L-0.67,0Z", "M-3.33,-0.1H-2V0.1H-3.33Z M-0.5,-0.1H1V0.1H-0.5Z M2.67,-0.1H3.17V0.1H2.67Z", "M-0.75,-0.65L0.75,-0.65L0,0.75Z"]}}
             }}
          ]
        },
        {
          "width": 432, "height": 349,
          "title": {"text": ["Strip biaxial test on the posterior", "leaflet, fixed in fibre direction"], "lineHeight": 32, "offset": 7},
          "data": {"name": "p4"},
          "resolve": {"axis": {"x": "independent", "y": "independent"}},
          "layer": [
            {"transform": [{"filter": "datum.s === 'σ₁₁'"}], "mark": {"type": "line", "strokeWidth": 1},
             "encoding": {
               "x": {"field": "x", "type": "quantitative", "scale": {"domain": [1, 1.7], "nice": false, "zero": false}, "axis": {"values": [1, 1.1, 1.2, 1.3, 1.4, 1.5, 1.6, 1.7], "format": "~g", "title": "Stretch (–)"}},
               "y": {"field": "y", "type": "quantitative", "scale": {"domain": [0, 800], "nice": false}, "axis": {"values": [0, 100, 200, 300, 400, 500, 600, 700, 800], "title": "Cauchy stress (kPa)"}},
               "color": {"field": "s", "type": "nominal", "scale": {"domain": ["σ₁₁", "σ₁₁[1]", "σ₂₂", "σ₂₂[1]"], "range": ["#3546b8", "#179249", "#ee3b3b", "#1ab4c0"]}, "legend": {"orient": "none", "legendX": 152, "legendY": 38, "title": null}}
             }},
            {"transform": [{"filter": "datum.s === 'σ₁₁[1]'"}], "mark": {"type": "point", "filled": false, "size": 144, "strokeWidth": 1},
             "encoding": {
               "x": {"field": "x", "type": "quantitative", "scale": {"domain": [1, 1.7], "nice": false, "zero": false}, "axis": null},
               "y": {"field": "y", "type": "quantitative", "scale": {"domain": [0, 800], "nice": false}, "axis": null},
               "color": {"field": "s", "type": "nominal", "scale": {"domain": ["σ₁₁", "σ₁₁[1]", "σ₂₂", "σ₂₂[1]"], "range": ["#3546b8", "#179249", "#ee3b3b", "#1ab4c0"]}},
               "shape": {"field": "s", "type": "nominal", "scale": {"domain": ["σ₁₁", "σ₁₁[1]", "σ₂₂", "σ₂₂[1]"], "range": ["M-3.33,0H3.33", "M0,-0.83L0.67,0L0,0.83L-0.67,0Z", "M-3.33,-0.1H-2V0.1H-3.33Z M-0.5,-0.1H1V0.1H-0.5Z M2.67,-0.1H3.17V0.1H2.67Z", "M-0.75,-0.65L0.75,-0.65L0,0.75Z"]}}
             }},
            {"transform": [{"filter": "datum.s === 'σ₂₂'"}], "mark": {"type": "line", "strokeWidth": 3, "strokeDash": [9, 6]},
             "encoding": {
               "x": {"field": "x", "type": "quantitative", "scale": {"domain": [1, 1.7], "nice": false, "zero": false}, "axis": {"orient": "top", "values": [1, 1.1, 1.2, 1.3, 1.4, 1.5, 1.6, 1.7], "labels": false, "title": null, "domain": false}},
               "y": {"field": "y", "type": "quantitative", "scale": {"domain": [0, 800], "nice": false}, "axis": {"orient": "right", "values": [0, 100, 200, 300, 400, 500, 600, 700, 800], "labels": false, "title": null, "domain": false}},
               "color": {"field": "s", "type": "nominal", "scale": {"domain": ["σ₁₁", "σ₁₁[1]", "σ₂₂", "σ₂₂[1]"], "range": ["#3546b8", "#179249", "#ee3b3b", "#1ab4c0"]}}
             }},
            {"transform": [{"filter": "datum.s === 'σ₂₂[1]'"}], "mark": {"type": "point", "filled": false, "size": 144, "strokeWidth": 1},
             "encoding": {
               "x": {"field": "x", "type": "quantitative", "scale": {"domain": [1, 1.7], "nice": false, "zero": false}, "axis": null},
               "y": {"field": "y", "type": "quantitative", "scale": {"domain": [0, 800], "nice": false}, "axis": null},
               "color": {"field": "s", "type": "nominal", "scale": {"domain": ["σ₁₁", "σ₁₁[1]", "σ₂₂", "σ₂₂[1]"], "range": ["#3546b8", "#179249", "#ee3b3b", "#1ab4c0"]}},
               "shape": {"field": "s", "type": "nominal", "scale": {"domain": ["σ₁₁", "σ₁₁[1]", "σ₂₂", "σ₂₂[1]"], "range": ["M-3.33,0H3.33", "M0,-0.83L0.67,0L0,0.83L-0.67,0Z", "M-3.33,-0.1H-2V0.1H-3.33Z M-0.5,-0.1H1V0.1H-0.5Z M2.67,-0.1H3.17V0.1H2.67Z", "M-0.75,-0.65L0.75,-0.65L0,0.75Z"]}}
             }}
          ]
        }
      ]
    }
  ]
}
